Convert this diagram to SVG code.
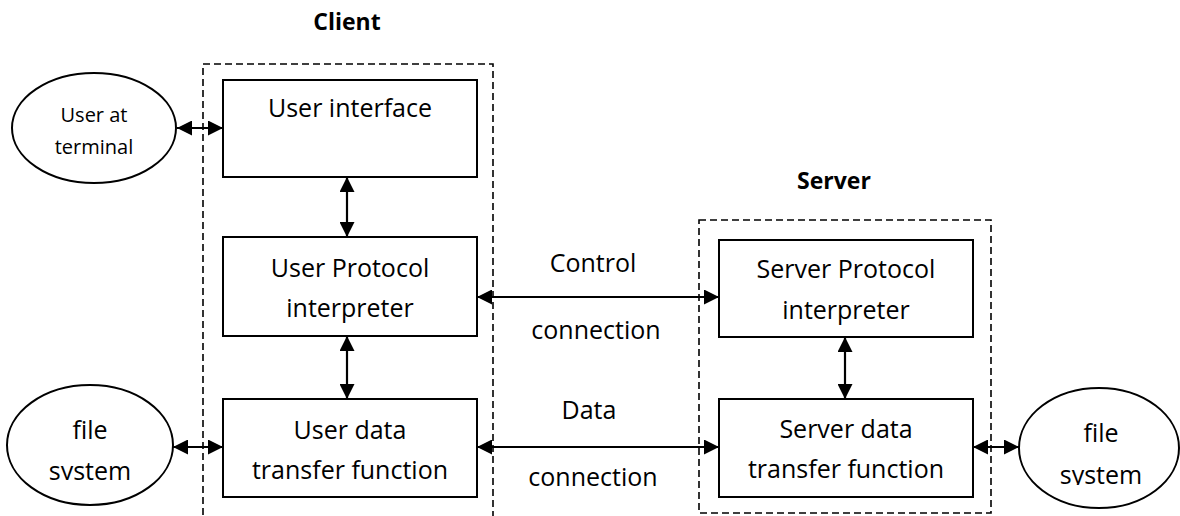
<svg xmlns="http://www.w3.org/2000/svg" width="1180" height="516" viewBox="0 0 1180 516">
<style>
  .bg { fill: #ffffff; }
  .box { fill: #ffffff; stroke: #000; stroke-width: 2; }
  .ell { fill: #ffffff; stroke: #000; stroke-width: 2; }
  .group { fill: none; stroke: #000; stroke-width: 1.6; stroke-dasharray: 7 4; }
  .t { font-family: "Open Sans", "Liberation Sans", sans-serif; font-size: 25px; fill: #000; text-anchor: middle; }
  .ts { font-family: "Open Sans", "Liberation Sans", sans-serif; font-size: 20px; fill: #000; text-anchor: middle; }
  .title { font-family: "Open Sans", "Liberation Sans", sans-serif; font-size: 23px; font-weight: bold; fill: #000; text-anchor: middle; }
  .conn { stroke: #000; stroke-width: 2.2; fill: none; marker-start: url(#ah); marker-end: url(#ah); }
</style>
<defs>
  <marker id="ah" viewBox="0 0 15 15" refX="15" refY="7.5" markerWidth="15" markerHeight="15" markerUnits="userSpaceOnUse" orient="auto-start-reverse">
    <path d="M0,0 L15,7.5 L0,15 z" fill="#000"/>
  </marker>
  <clipPath id="clipL"><rect x="0" y="0" width="200" height="480"/></clipPath>
  <clipPath id="clipR"><rect x="1000" y="0" width="180" height="485"/></clipPath>
</defs>
<rect class="bg" x="0" y="0" width="1180" height="516"/>

<g id="client-group">
  <rect class="group" x="203" y="64" width="290" height="480"/>
  <text class="title" x="347" y="30">Client</text>
</g>
<g id="server-group">
  <rect class="group" x="699" y="220" width="292" height="293"/>
  <text class="title" x="834" y="189">Server</text>
</g>

<g id="connectors">
  <line class="conn" x1="177" y1="128" x2="223" y2="128"/>
  <line class="conn" x1="347" y1="177" x2="347" y2="237"/>
  <line class="conn" x1="347" y1="336" x2="347" y2="399"/>
  <line class="conn" x1="173" y1="447" x2="223" y2="447"/>
  <line class="conn" x1="477" y1="297" x2="719" y2="297"/>
  <line class="conn" x1="477" y1="447" x2="719" y2="447"/>
  <line class="conn" x1="845" y1="337" x2="845" y2="399"/>
  <line class="conn" x1="973" y1="447" x2="1019" y2="447"/>
  <text class="t" x="593" y="272">Control</text>
  <text class="t" x="596" y="339">connection</text>
  <text class="t" x="589" y="419">Data</text>
  <text class="t" x="593" y="486">connection</text>
</g>

<g id="user-terminal">
  <ellipse class="ell" cx="94" cy="128" rx="82" ry="55"/>
  <text class="ts" x="94" y="122">User at</text>
  <text class="ts" x="94" y="154">terminal</text>
</g>

<g id="user-interface">
  <rect class="box" x="223" y="80" width="254" height="97"/>
  <text class="t" x="350" y="117">User interface</text>
</g>

<g id="user-pi">
  <rect class="box" x="223" y="237" width="254" height="99"/>
  <text class="t" x="350" y="277">User Protocol</text>
  <text class="t" x="350" y="317">interpreter</text>
</g>

<g id="user-dtf">
  <rect class="box" x="223" y="399" width="254" height="98"/>
  <text class="t" x="350" y="439">User data</text>
  <text class="t" x="350" y="479">transfer function</text>
</g>

<g id="file-system-left">
  <ellipse class="ell" cx="90" cy="445" rx="83" ry="60"/>
  <text class="t" x="90" y="439">file</text>
  <text class="t" x="90" y="480" clip-path="url(#clipL)">system</text>
</g>

<g id="server-pi">
  <rect class="box" x="719" y="240" width="254" height="97"/>
  <text class="t" x="846" y="278">Server Protocol</text>
  <text class="t" x="846" y="319">interpreter</text>
</g>

<g id="server-dtf">
  <rect class="box" x="719" y="399" width="254" height="98"/>
  <text class="t" x="846" y="438">Server data</text>
  <text class="t" x="846" y="478">transfer function</text>
</g>

<g id="file-system-right">
  <ellipse class="ell" cx="1099" cy="448" rx="80" ry="60"/>
  <text class="t" x="1101" y="442">file</text>
  <text class="t" x="1101" y="484" clip-path="url(#clipR)">system</text>
</g>
</svg>
